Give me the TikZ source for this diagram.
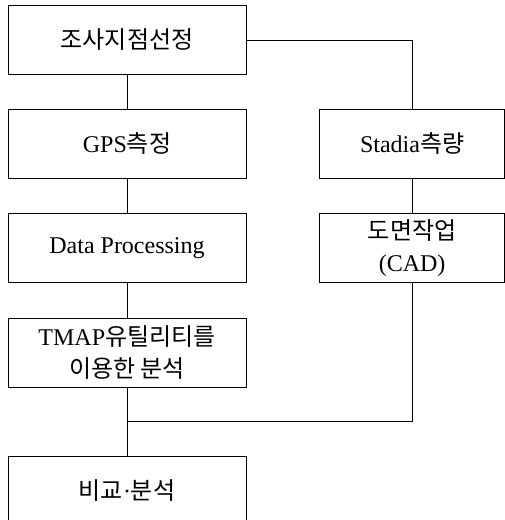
\documentclass[tikz,border=0pt]{standalone}
\usepackage{fontspec}
\setmainfont{Liberation Serif}
\newfontfamily\kr{Noto Sans CJK KR}
\usetikzlibrary{positioning,calc}

\begin{document}
\begin{tikzpicture}[x=1pt, y=-1pt, node distance=35pt, semithick,
    box/.style={draw, rectangle, minimum width=238pt, minimum height=69pt, align=center,
                font=\fontsize{24}{32}\selectfont},
    sidebox/.style={box, minimum width=185pt}]
    \useasboundingbox (0,0) rectangle (505,520);

    \node[box]                      (survey)  at (127,40)             {\kr 조사지점선정};
    \node[box]                      (gps)     [below=34pt of survey]  {GPS{\kr 측정}};
    \node[box]                      (data)    [below=of gps]          {Data Processing};
    \node[box]                      (tmap)    [below=of data]         {TMAP{\kr 유틸리티를}\\{\kr 이용한 분석}};
    \node[box]                      (compare) [below=68pt of tmap]    {{\kr 비교}·{\kr 분석}};
    \node[sidebox]                  (stadia)  [right=73pt of gps]     {Stadia{\kr 측량}};
    \node[sidebox]                  (cad)     [below=of stadia]       {{\kr 도면작업}\\(CAD)};
    \coordinate                     (join)    at ($(tmap.south)!0.5!(compare.north)$);

    \draw (survey) -- (gps) -- (data) -- (tmap) -- (compare);
    \draw (survey.east) -| (stadia.north);
    \draw (stadia) -- (cad);
    \draw (cad.south) |- (join);
\end{tikzpicture}
\end{document}
